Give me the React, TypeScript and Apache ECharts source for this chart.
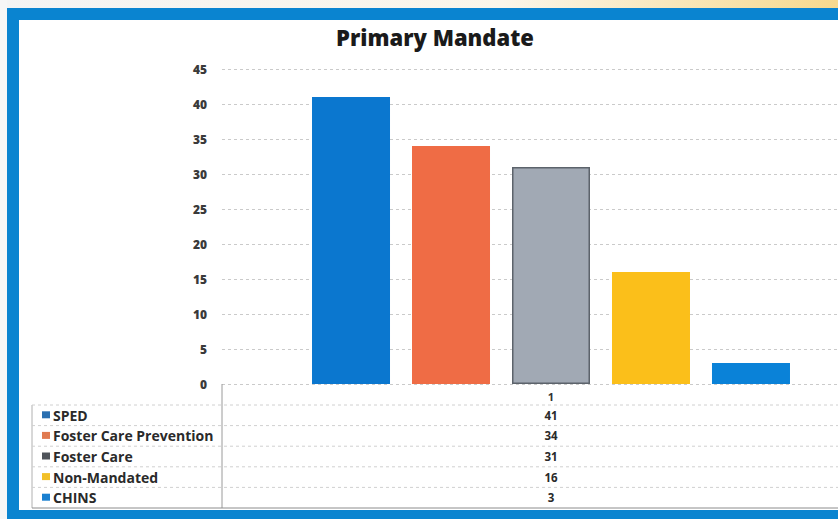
import React, { useEffect, useRef } from "react";
import * as echarts from "echarts";

const title = "Primary Mandate";
const categories = ["1"];
const seriesNames = ["SPED", "Foster Care Prevention", "Foster Care", "Non-Mandated", "CHINS"];
const seriesValues = [41, 34, 31, 16, 3];
const barColors = ["#0b77cf", "#ef6c45", "#a1a9b4", "#fbbf1a", "#0a82d8"];
const keyColors = ["#2a6fb0", "#e07a50", "#4f545a", "#f2c028", "#1a80d0"];
const yTicks = { min: 0, max: 45, interval: 5 };

const FONT = "'Open Sans', 'DejaVu Sans', sans-serif";
const FRAME = "#0a84d0";

export default function App() {
  const ref = useRef<HTMLDivElement>(null);

  useEffect(() => {
    if (!ref.current) return;
    const chart = echarts.init(ref.current, undefined, { renderer: "svg" });

    const gridLeft = 222;
    const gridTop = 69;
    const gridHeight = 315;
    const gridBottomY = gridTop + gridHeight;
    const rowTop = 405;
    const rowH = 20.6;
    const tableBottom = rowTop + rowH * seriesNames.length;

    const series = seriesNames.map((name, i) => ({
      name,
      type: "bar" as const,
      data: [seriesValues[i]],
      barWidth: 78,
      barGap: "28.2%",
      itemStyle: {
        color: barColors[i],
        borderColor: i === 2 ? "#5c636b" : barColors[i],
        borderWidth: i === 2 ? 1.5 : 0,
      },
    }));

    chart.setOption({
      animation: false,
      backgroundColor: "#ffffff",
      title: {
        text: title,
        left: 430,
        top: 21,
        textAlign: "center",
        textStyle: { fontFamily: FONT, fontWeight: 800, fontSize: 22, color: "#1a1a1a" },
      },
      grid: { left: gridLeft, top: gridTop, width: 658, height: gridHeight },
      xAxis: {
        type: "category",
        data: categories,
        axisLine: { show: false },
        axisTick: { show: false },
        axisLabel: { margin: 7, fontFamily: FONT, fontWeight: "bold", fontSize: 11, color: "#333" },
      },
      yAxis: {
        type: "value",
        min: yTicks.min,
        max: yTicks.max,
        interval: yTicks.interval,
        axisLine: { show: false },
        axisTick: { show: false },
        axisLabel: { margin: 15, fontFamily: FONT, fontWeight: 800, fontSize: 12, color: "#3a3a3a" },
        splitLine: { lineStyle: { color: "#cacaca", type: [3, 3], width: 1 } },
      },
      series,
    });

    const centerX = chart.convertToPixel({ xAxisIndex: 0 }, categories[0]) as number;

    const graphics: any[] = [];
    // strip above the frame
    graphics.push({
      type: "rect",
      shape: { x: 0, y: 0, width: 838, height: 8 },
      style: {
        fill: new echarts.graphic.LinearGradient(0, 0, 1, 0, [
          { offset: 0, color: "#f4f4f4" },
          { offset: 0.6, color: "#fbf6ea" },
          { offset: 1, color: "#f7d98e" },
        ]),
      },
      z: 10,
    });
    graphics.push({ type: "rect", shape: { x: 0, y: 0, width: 7, height: 519 }, style: { fill: "#f6f6f6" }, z: 10 });
    // blue frame
    graphics.push({ type: "rect", shape: { x: 7, y: 8, width: 900, height: 12 }, style: { fill: FRAME }, z: 11 });
    graphics.push({ type: "rect", shape: { x: 7, y: 8, width: 12, height: 511 }, style: { fill: FRAME }, z: 11 });
    graphics.push({ type: "rect", shape: { x: 7, y: 510, width: 900, height: 9 }, style: { fill: FRAME }, z: 11 });

    // data table lines
    graphics.push({
      type: "line",
      shape: { x1: gridLeft, y1: gridBottomY, x2: gridLeft, y2: tableBottom },
      style: { stroke: "#9a9a9a", lineWidth: 1 },
    });
    graphics.push({
      type: "line",
      shape: { x1: 32, y1: rowTop, x2: 32, y2: tableBottom },
      style: { stroke: "#b0b0b0", lineWidth: 1 },
    });
    for (let r = 0; r <= seriesNames.length; r++) {
      const y = rowTop + r * rowH;
      const last = r === seriesNames.length;
      graphics.push({
        type: "line",
        shape: { x1: 32, y1: y, x2: 900, y2: y },
        style: { stroke: last ? "#8c8c8c" : "#d0d0d0", lineWidth: 1, lineDash: last ? null : [3, 3] },
      });
    }

    seriesNames.forEach((name, i) => {
      const cy = rowTop + i * rowH + rowH / 2;
      graphics.push({ type: "rect", shape: { x: 42, y: cy - 4, width: 8, height: 7 }, style: { fill: keyColors[i] } });
      graphics.push({
        type: "text",
        x: 53,
        y: cy,
        style: {
          text: name,
          fontFamily: FONT,
          fontWeight: "bold",
          fontSize: 14,
          fill: "#2a2a2a",
          textVerticalAlign: "middle",
          verticalAlign: "middle",
        },
      });
      graphics.push({
        type: "text",
        x: centerX,
        y: cy,
        style: {
          text: String(seriesValues[i]),
          fontFamily: FONT,
          fontWeight: "bold",
          fontSize: 11.5,
          fill: "#2a2a2a",
          align: "center",
          textAlign: "center",
          verticalAlign: "middle",
          textVerticalAlign: "middle",
        },
      });
    });

    chart.setOption({ graphic: graphics });

    return () => chart.dispose();
  }, []);

  return (
    <div style={{ position: "fixed", left: 0, top: 0, width: 838, height: 519, overflow: "hidden" }}>
      <div ref={ref} style={{ width: 900, height: 519 }} />
    </div>
  );
}
